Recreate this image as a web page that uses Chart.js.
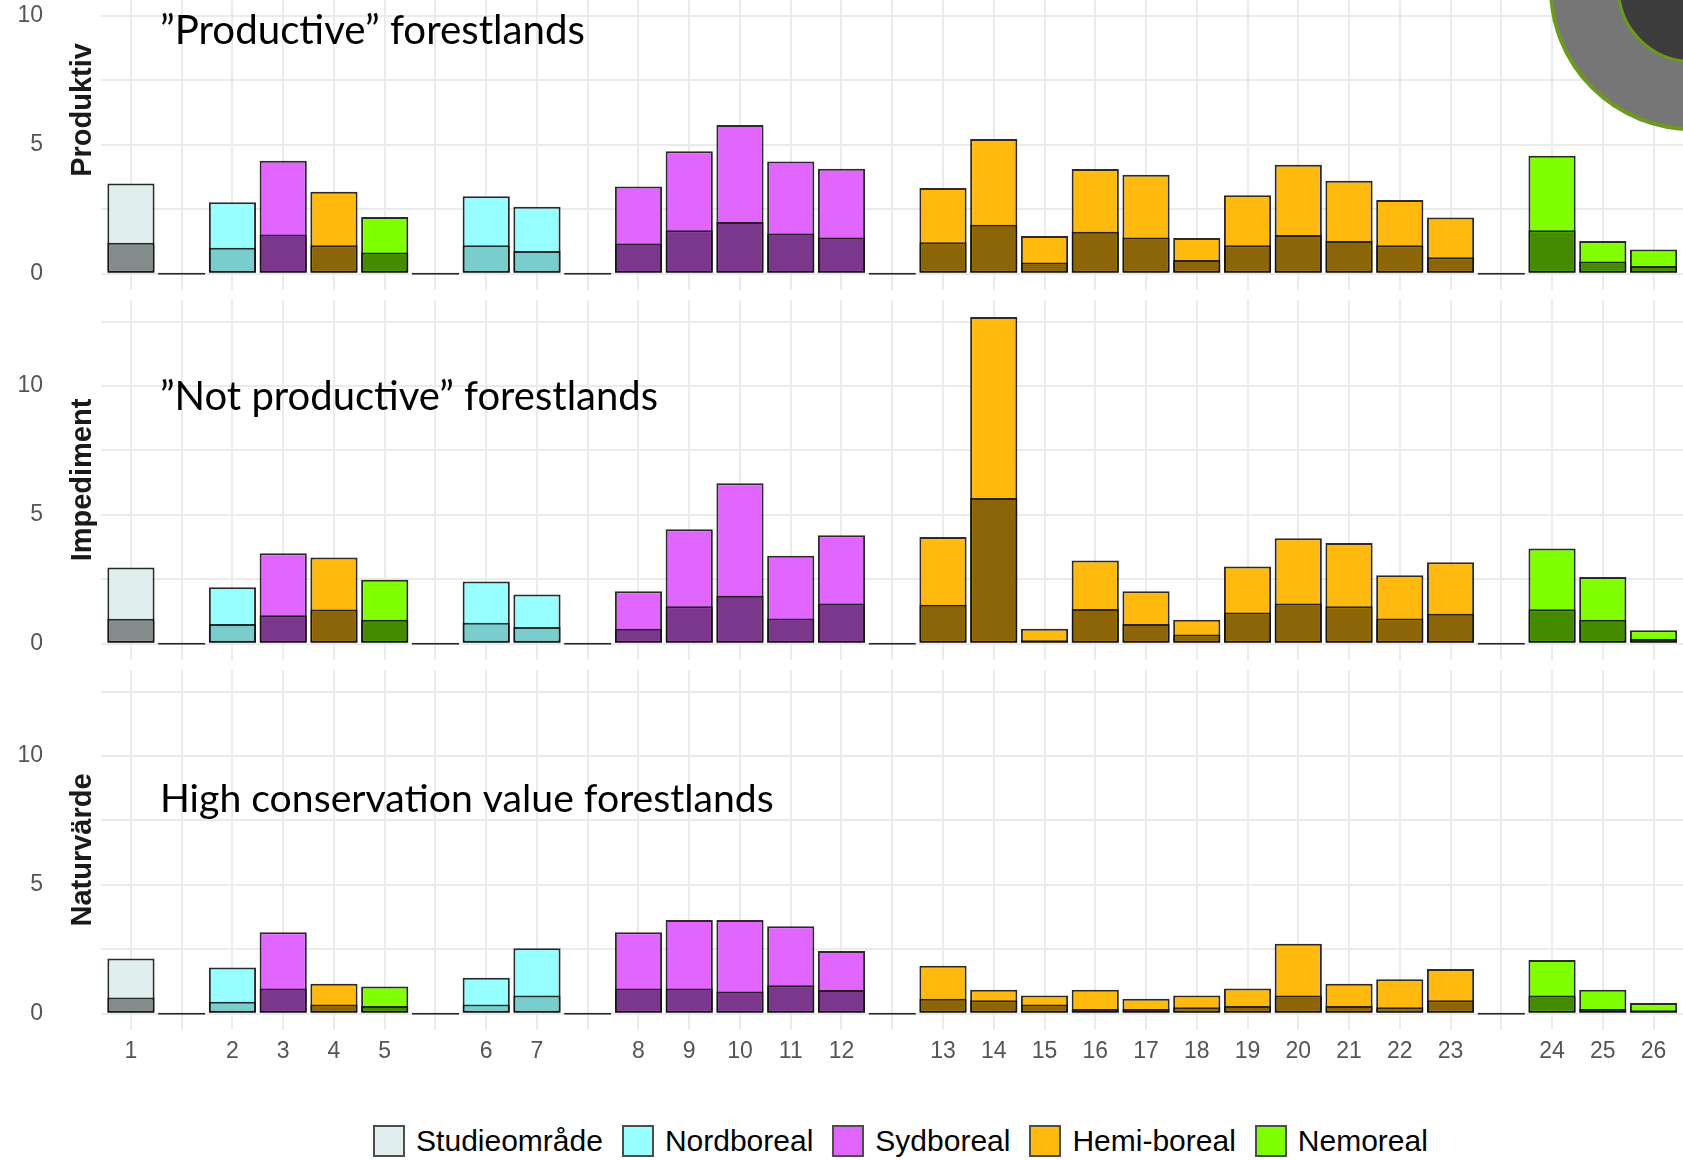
<!DOCTYPE html>
<html><head><meta charset="utf-8">
<script src="https://cdn.jsdelivr.net/npm/chart.js@4.4.1/dist/chart.umd.min.js"></script>
<style>
html,body{margin:0;padding:0;background:#fff;width:1683px;height:1160px;overflow:hidden;position:relative}
canvas{position:absolute;left:0}
#legend{position:absolute;top:1123px;left:0;width:1801px;height:36px;display:flex;justify-content:center;align-items:center;font-family:"Liberation Sans",Arial,sans-serif;font-size:30px;color:#000}
.item{display:flex;align-items:center;margin:0 9.5px;white-space:nowrap}
.box{width:32px;height:32px;box-sizing:border-box;border:2px solid #4d4d4d;margin-right:11px}
.ring{position:absolute;border-radius:50%;box-sizing:border-box}
</style></head>
<body>
<canvas id="c1" width="1684" height="360" style="top:-70px"></canvas>
<canvas id="c2" width="1684" height="360" style="top:300px"></canvas>
<canvas id="c3" width="1684" height="420" style="top:670px"></canvas>
<div id="legend"></div>
<div class="ring" style="left:1549px;top:-155px;width:286px;height:286px;background:#767676;border:4px solid #6B9B1E"></div>
<div class="ring" style="left:1617px;top:-87px;width:150px;height:150px;background:#3C3C3C;border:3px solid #6B9B1E"></div>
<script>
// ---- data ----
const categories = ['1','','2','3','4','5','','6','7','','8','9','10','11','12','','13','14','15','16','17','18','19','20','21','22','23','','24','25','26'];
const zones = ['Studieområde','','Nordboreal','Sydboreal','Hemi-boreal','Nemoreal','','Nordboreal','Nordboreal','',
  'Sydboreal','Sydboreal','Sydboreal','Sydboreal','Sydboreal','',
  'Hemi-boreal','Hemi-boreal','Hemi-boreal','Hemi-boreal','Hemi-boreal','Hemi-boreal','Hemi-boreal','Hemi-boreal','Hemi-boreal','Hemi-boreal','Hemi-boreal','',
  'Nemoreal','Nemoreal','Nemoreal'];
const legendZones = ['Studieområde','Nordboreal','Sydboreal','Hemi-boreal','Nemoreal'];

const produktivTotal = [3.5,0,2.77,4.38,3.18,2.2,0,3.0,2.6,0,3.38,4.75,5.77,4.35,4.07,0,3.32,5.22,1.46,4.06,3.84,1.38,3.04,4.23,3.6,2.86,2.18,0,4.57,1.27,0.94];
const produktivDark  = [1.2,0,1.0,1.52,1.1,0.82,0,1.1,0.88,0,1.17,1.68,2.0,1.56,1.4,0,1.22,1.9,0.43,1.63,1.4,0.53,1.1,1.5,1.27,1.1,0.64,0,1.68,0.47,0.3];

const impedimentTotal = [2.95,0,2.19,3.51,3.34,2.48,0,2.41,1.91,0,2.03,4.44,6.22,3.41,4.21,0,4.14,12.68,0.58,3.23,2.03,0.93,2.99,4.09,3.91,2.65,3.16,0,3.69,2.59,0.52];
const impedimentDark  = [0.97,0,0.76,1.1,1.32,0.93,0,0.81,0.65,0,0.58,1.45,1.86,0.98,1.56,0,1.51,5.65,0.13,1.34,0.76,0.35,1.21,1.56,1.45,0.98,1.16,0,1.33,0.93,0.19];

const naturvardeTotal = [2.14,0,1.79,3.16,1.16,1.05,0,1.39,2.54,0,3.16,3.63,3.63,3.39,2.43,0,1.86,0.93,0.7,0.93,0.58,0.7,0.98,2.71,1.16,1.33,1.73,0,2.08,0.93,0.41];
const naturvardeDark  = [0.63,0,0.46,0.98,0.35,0.3,0,0.35,0.7,0,0.98,0.98,0.86,1.1,0.92,0,0.58,0.52,0.35,0.18,0.18,0.25,0.3,0.7,0.3,0.25,0.52,0,0.7,0.18,0.13];

const yTicks = [0, 2.5, 5, 7.5, 10, 12.5];

// ---- styles ----
const zoneLight = {'Studieområde':'#E0EEEE','Nordboreal':'#97FFFF','Sydboreal':'#E066FF','Hemi-boreal':'#FFB90F','Nemoreal':'#7FFF00','':'#333333'};
const zoneDark  = {'Studieområde':'#838B8B','Nordboreal':'#79CDCD','Sydboreal':'#7A378B','Hemi-boreal':'#8B6508','Nemoreal':'#458B00','':'#333333'};
const gridColor = '#ebebeb';
const tickColor = '#555555';
const tickFont = {family:'"Liberation Sans", Arial, sans-serif', size:23};

const panelText = {
  id:'panelText',
  afterDraw(chart, args, o) {
    const {ctx, chartArea} = chart;
    ctx.save();
    ctx.font = 'bold 29px "Liberation Sans", Arial, sans-serif';
    ctx.fillStyle = '#1a1a1a';
    ctx.textAlign = 'center';
    ctx.textBaseline = 'alphabetic';
    ctx.translate(o.stripX, (chartArea.top + chartArea.bottom) / 2);
    ctx.rotate(-Math.PI / 2);
    ctx.fillText(o.strip, 0, 0);
    ctx.restore();
    ctx.save();
    ctx.font = '40px Lato, "Open Sans", sans-serif';
    const w = ctx.measureText(o.title).width;
    const size = 40 * o.titleWidth / w;
    ctx.font = size.toFixed(2) + 'px Lato, "Open Sans", sans-serif';
    ctx.fillStyle = '#000';
    ctx.textAlign = 'left';
    ctx.textBaseline = 'alphabetic';
    ctx.fillText(o.title, o.titleX, chartArea.top + o.titleBaseline);
    ctx.restore();
  }
};

function makeChart(id, totals, darks, strip, title, titleWidth, titleBaseline, showX) {
  const pts = arr => arr.map((v, i) => ({x:i, y:v}));
  const common = {grouped:false, barPercentage:0.93, categoryPercentage:1, borderWidth:2,
    borderColor:'rgba(20,20,20,0.9)', borderSkipped:false};
  return new Chart(document.getElementById(id), {
    type:'bar',
    data:{datasets:[
      Object.assign({label:'dark', data:pts(darks), backgroundColor:zones.map(z => zoneDark[z]), minBarLength:2}, common),
      Object.assign({label:'total', data:pts(totals), backgroundColor:zones.map(z => zoneLight[z])}, common)
    ]},
    options:{
      responsive:false, animation:false, devicePixelRatio:1,
      layout:{padding:0, autoPadding:false},
      plugins:{legend:{display:false}, tooltip:{enabled:false},
        panelText:{strip, title, titleWidth, titleBaseline, titleX:160, stripX:91}},
      scales:{
        x:{type:'linear', min:-0.6, max:30.6, offset:false,
          afterBuildTicks:s => { s.ticks = categories.map((c, i) => ({value:i})); },
          afterFit:s => { s.height = showX ? 60 : 0; s.paddingLeft = 0; s.paddingRight = 0; },
          grid:{color:gridColor, lineWidth:2, drawTicks:false, offset:false},
          border:{display:false},
          ticks:{display:showX, autoSkip:false, maxRotation:0, padding:8, color:tickColor, font:tickFont,
            callback:v => categories[v] ?? ''}
        },
        y:{min:-0.635, max:13.335,
          afterBuildTicks:s => { s.ticks = yTicks.map(v => ({value:v})); },
          afterFit:s => { s.width = 100.5; s.paddingTop = 0; s.paddingBottom = 0; },
          grid:{color:gridColor, lineWidth:2, drawTicks:false},
          border:{display:false},
          ticks:{padding:57.5, color:tickColor, font:tickFont,
            callback:v => (v % 5 === 0 ? String(v) : '')}
        }
      }
    },
    plugins:[panelText]
  });
}

makeChart('c1', produktivTotal, produktivDark, 'Produktiv', '\u201DProductive\u201D forestlands', 425, 114.3, false);
makeChart('c2', impedimentTotal, impedimentDark, 'Impediment', '\u201DNot productive\u201D forestlands', 498, 110, false);
makeChart('c3', naturvardeTotal, naturvardeDark, 'Naturvärde', 'High conservation value forestlands', 614, 142.2, true);

// legend
const lg = document.getElementById('legend');
legendZones.forEach(z => {
  const it = document.createElement('div'); it.className = 'item';
  const b = document.createElement('div'); b.className = 'box'; b.style.background = zoneLight[z];
  const t = document.createElement('span'); t.textContent = z;
  it.appendChild(b); it.appendChild(t); lg.appendChild(it);
});
</script>
</body></html>
